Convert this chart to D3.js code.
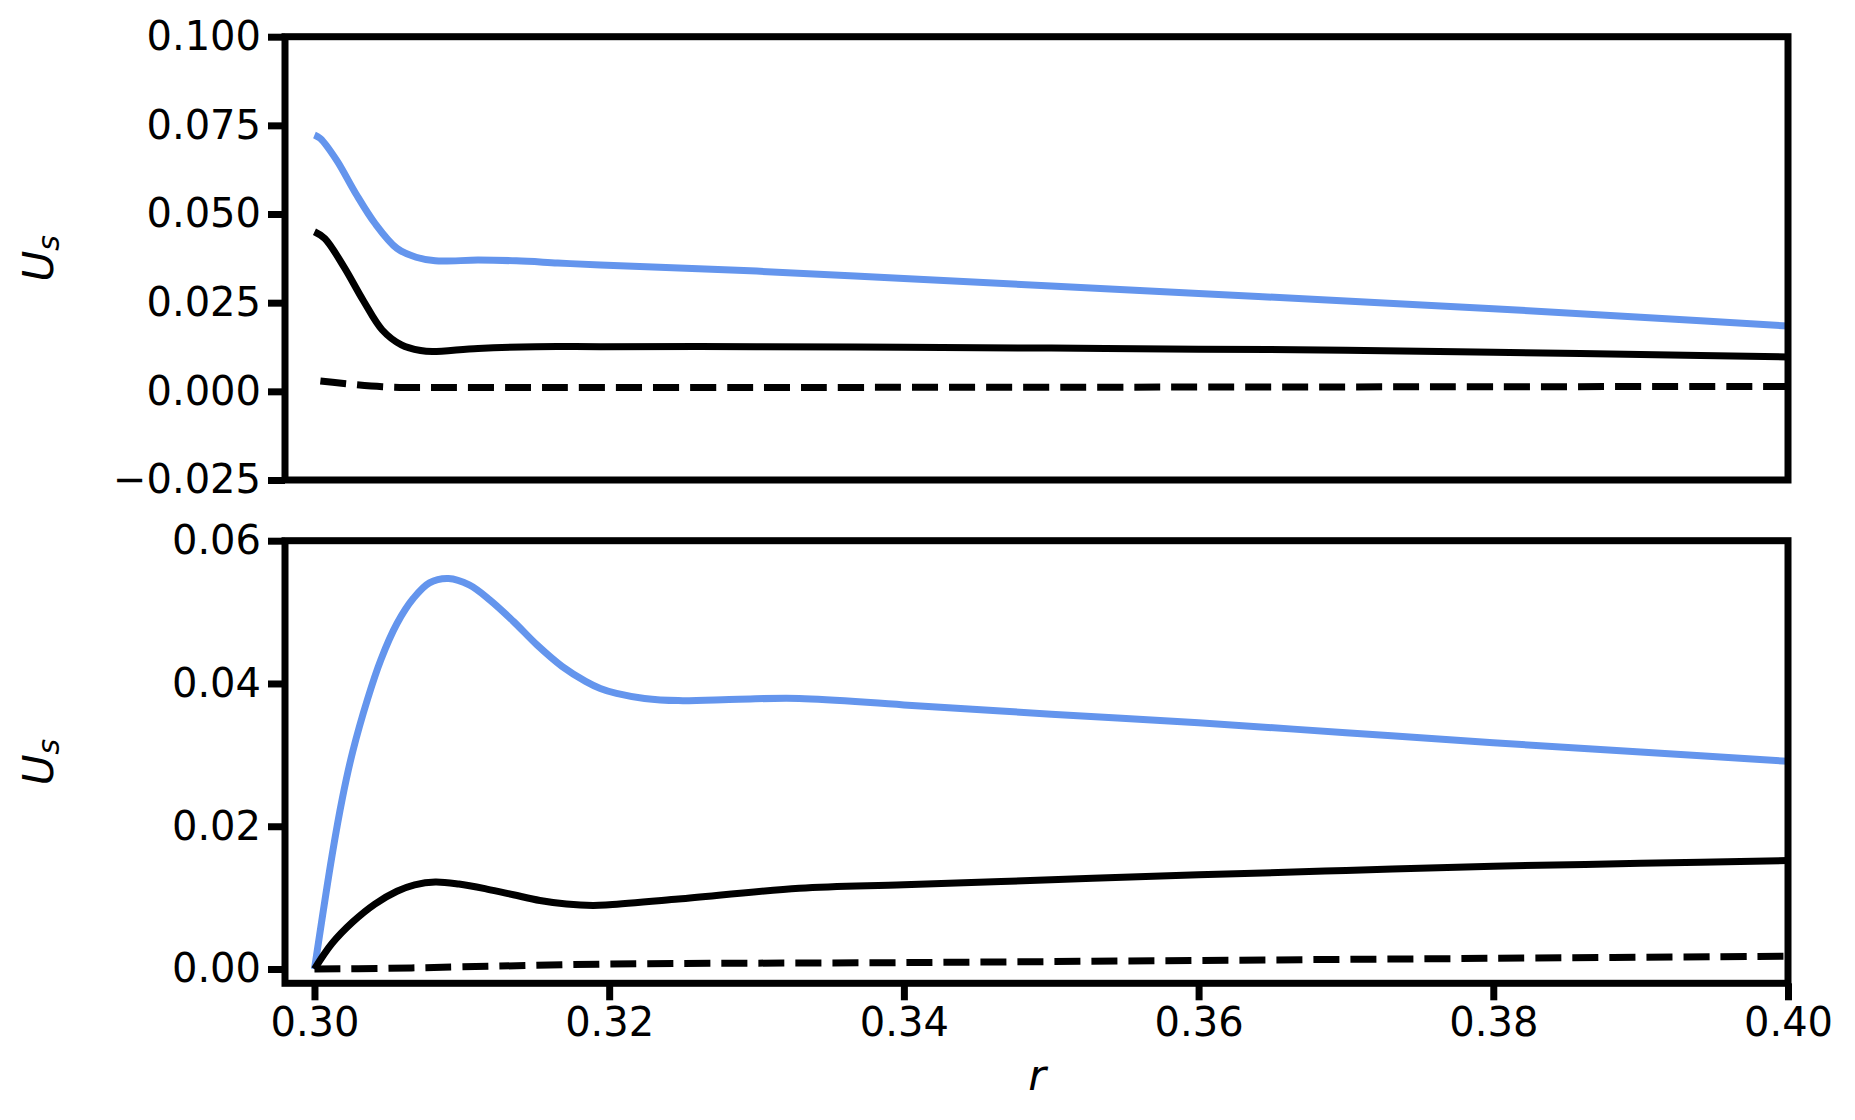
<!DOCTYPE html>
<html>
<head>
<meta charset="utf-8">
<script src="https://cdn.jsdelivr.net/npm/d3@7"></script>
<style>
  body { margin: 0; background: #fff; }
  svg { display: block; }
  text { font-family: "DejaVu Sans", sans-serif; }
</style>
</head>
<body>
<svg width="1855" height="1120"></svg>
<script>
// top panel
const topBlueR = [0.3000, 0.3004, 0.3015, 0.3028, 0.3041, 0.3056, 0.3069, 0.3082, 0.3111, 0.3137, 0.3165, 0.3194, 0.33, 0.34, 0.35, 0.36, 0.37, 0.38, 0.39, 0.40]
const topBlue  = [0.0723, 0.0713, 0.0652, 0.0558, 0.0474, 0.0403, 0.0378, 0.0368, 0.0370, 0.0368, 0.0362, 0.0356, 0.0339, 0.0318, 0.0297, 0.0276, 0.0255, 0.0233, 0.0209, 0.0184]

const topBlackR = [0.3000, 0.3007, 0.3020, 0.3033, 0.3046, 0.3059, 0.3072, 0.3080, 0.3111, 0.3150, 0.3194, 0.33, 0.34, 0.35, 0.36, 0.37, 0.38, 0.39, 0.40]
const topBlack  = [0.0450, 0.0431, 0.0351, 0.0257, 0.0173, 0.0131, 0.0115, 0.0112, 0.0121, 0.0126, 0.0126, 0.0126, 0.0124, 0.0122, 0.0119, 0.0116, 0.0110, 0.0104, 0.0097]

const topDashR = [0.3004, 0.3046, 0.31, 0.33, 0.36, 0.38, 0.40]
const topDash  = [0.0029, 0.0013, 0.0011, 0.0011, 0.0012, 0.0013, 0.0014]

// bottom panel
const botBlueR = [0.3000, 0.3012, 0.3019, 0.3026, 0.3036, 0.3045, 0.3056, 0.3067, 0.3078, 0.3091, 0.3105, 0.3119, 0.3135, 0.3151, 0.3168, 0.3184, 0.3194, 0.3205, 0.3224, 0.3247, 0.3288, 0.3329, 0.34, 0.35, 0.36, 0.37, 0.38, 0.39, 0.40]
const botBlue  = [0.0000, 0.0160, 0.0240, 0.0305, 0.0378, 0.0433, 0.0484, 0.0519, 0.0541, 0.0547, 0.0538, 0.0517, 0.0487, 0.0454, 0.0424, 0.0403, 0.0393, 0.0386, 0.0379, 0.0376, 0.0378, 0.0379, 0.0370, 0.0357, 0.0345, 0.0331, 0.0317, 0.0304, 0.0291]

const botBlackR = [0.3000, 0.3012, 0.3026, 0.3041, 0.3056, 0.3068, 0.3082, 0.3098, 0.3117, 0.3135, 0.3153, 0.3171, 0.3189, 0.3200, 0.3247, 0.3329, 0.34, 0.35, 0.36, 0.37, 0.38, 0.39, 0.40]
const botBlack  = [0.0000, 0.0036, 0.0066, 0.0091, 0.0109, 0.0118, 0.0122, 0.0119, 0.0112, 0.0104, 0.0096, 0.0091, 0.0089, 0.0090, 0.0098, 0.0113, 0.0118, 0.0125, 0.0132, 0.0138, 0.0144, 0.0148, 0.0152]

const botDashR = [0.3000, 0.3050, 0.31, 0.32, 0.34, 0.36, 0.38, 0.40]
const botDash  = [0.0000, 0.0001, 0.0003, 0.0007, 0.0009, 0.0012, 0.0015, 0.0018]

const xTicks = [0.30, 0.32, 0.34, 0.36, 0.38, 0.40]
const topTicks = [-0.025, 0, 0.025, 0.05, 0.075, 0.1]
const botTicks = [0, 0.02, 0.04, 0.06]

const svg = d3.select('svg')
const left = 285, right = 1788
const lw = 7

const x = d3.scaleLinear().domain([0.298, 0.40]).range([left, right])

const panels = [
  { top: 36.7, bottom: 480, domain: [-0.025, 0.1], ticks: topTicks, fmt: d3.format('.3f'),
    series: [[topBlueR, topBlue, '#6495ED', null], [topBlackR, topBlack, '#000', null], [topDashR, topDash, '#000', '26,11']],
    xAxis: false },
  { top: 540.7, bottom: 983.3, domain: [-0.002, 0.06], ticks: botTicks, fmt: d3.format('.2f'),
    series: [[botBlueR, botBlue, '#6495ED', null], [botBlackR, botBlack, '#000', null], [botDashR, botDash, '#000', '26,11']],
    xAxis: true }
]

const fmtMinus = f => v => f(v).replace('-', '\u2212')

panels.forEach((p, i) => {
  const y = d3.scaleLinear().domain(p.domain).range([p.bottom, p.top])
  const g = svg.append('g')

  svg.append('clipPath').attr('id', 'clip' + i)
    .append('rect')
    .attr('x', left).attr('y', p.top)
    .attr('width', right - left).attr('height', p.bottom - p.top)

  const line = d3.line()
    .x(d => x(d[0]))
    .y(d => y(d[1]))
    .curve(d3.curveCatmullRom.alpha(0.5))

  p.series.forEach(([rs, vs, color, dash]) => {
    g.append('path')
      .datum(rs.map((r, k) => [r, vs[k]]))
      .attr('clip-path', 'url(#clip' + i + ')')
      .attr('d', line)
      .attr('fill', 'none')
      .attr('stroke', color)
      .attr('stroke-width', 7)
      .attr('stroke-dasharray', dash)
  })

  // spines
  g.append('rect')
    .attr('x', left).attr('y', p.top)
    .attr('width', right - left).attr('height', p.bottom - p.top)
    .attr('fill', 'none').attr('stroke', '#000').attr('stroke-width', lw)

  const yAxis = g.append('g')
    .attr('transform', `translate(${left},0)`)
    .call(d3.axisLeft(y).tickValues(p.ticks).tickFormat(fmtMinus(p.fmt)).tickSize(17).tickPadding(7))
  yAxis.select('.domain').remove()
  yAxis.selectAll('line').attr('stroke-width', lw)
  yAxis.selectAll('text').attr('font-size', 40).attr('fill', '#000').style('font-family', '"DejaVu Sans"')

  if (p.xAxis) {
    const xAxis = g.append('g')
      .attr('transform', `translate(0,${p.bottom})`)
      .call(d3.axisBottom(x).tickValues(xTicks).tickFormat(d3.format('.2f')).tickSize(17).tickPadding(7))
    xAxis.select('.domain').remove()
    xAxis.selectAll('line').attr('stroke-width', lw)
    xAxis.selectAll('text').attr('font-size', 40).attr('fill', '#000').style('font-family', '"DejaVu Sans"')
  }

  // y label U_s
  const cy = (p.top + p.bottom) / 2
  const lab = svg.append('text')
    .attr('transform', `translate(53,${cy}) rotate(-90)`)
    .attr('text-anchor', 'middle')
    .attr('font-size', 42)
    .attr('font-style', 'italic')
  lab.append('tspan').text('U')
  lab.append('tspan').attr('font-size', 30).attr('dy', 6).text('s')
})

svg.append('text')
  .attr('x', 1037).attr('y', 1090)
  .attr('text-anchor', 'middle')
  .attr('font-size', 43)
  .attr('font-style', 'italic')
  .text('r')
</script>
</body>
</html>
